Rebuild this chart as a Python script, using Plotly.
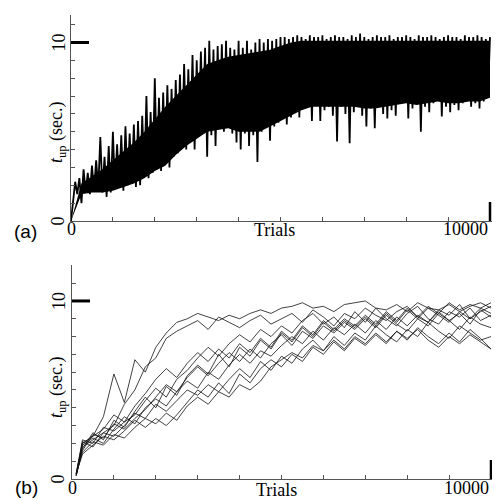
import plotly.graph_objects as go

# ---------------- data ----------------
# Panel (a): single run, dense oscillation read as alternating troughs / peaks
a_trough_trials = list(range(50, 10000, 100))
a_troughs = [1.2, 1.5, 1.0, 1.6, 1.5, 1.7, 1.8, 1.6, 1.35, 1.6,
             1.8, 1.9, 1.7, 2.0, 2.1, 1.9, 2.0, 2.5, 2.4, 2.7,
             2.9, 2.8, 3.2, 3.0, 3.6, 3.8, 4.2, 4.0, 4.6, 4.0,
             5.0, 5.5, 3.6, 4.8, 4.2, 5.3, 5.0, 5.3, 4.9, 4.4,
             4.0, 4.9, 4.2, 4.8, 3.3, 5.0, 5.3, 4.5, 5.3, 5.5,
             5.9, 5.4, 5.8, 6.2, 5.8, 6.6, 7.0, 5.6, 6.8, 5.6,
             6.2, 6.4, 5.9, 4.45, 6.4, 6.0, 4.35, 6.1, 6.6, 5.9,
             5.3, 6.3, 5.2, 6.8, 6.0, 5.75, 6.2, 5.9, 6.6, 7.0,
             5.75, 6.3, 6.7, 5.0, 6.4, 6.1, 6.6, 6.8, 5.85, 6.4,
             6.1, 6.5, 6.2, 6.6, 6.8, 6.4, 6.6, 6.3, 6.7, 7.0]
a_peak_trials = list(range(100, 10001, 100))
a_peaks = [2.2, 2.4, 2.9, 2.7, 3.1, 3.4, 4.7, 3.6, 4.2, 5.0,
           4.3, 4.8, 5.3, 4.9, 5.4, 5.6, 5.9, 7.0, 6.1, 8.0,
           6.9, 7.2, 7.6, 7.4, 7.9, 8.2, 8.8, 8.5, 9.3, 9.0,
           9.5, 9.7, 10.1, 9.6, 9.8, 9.9, 10.1, 9.7, 9.6, 10.1,
           9.7, 10.1, 9.6, 10.0, 10.2, 10.0, 10.2, 10.1, 10.2, 10.3,
           10.3, 10.2, 10.3, 10.4, 10.3, 10.2, 10.4, 10.3, 10.3, 10.4,
           10.2, 10.3, 10.4, 10.3, 10.3, 10.2, 10.4, 10.3, 10.5, 10.3,
           10.2, 10.3, 10.4, 10.3, 10.3, 10.4, 10.2, 10.3, 10.3, 10.4,
           10.3, 10.2, 10.4, 10.3, 10.3, 10.4, 10.3, 10.2, 10.3, 10.4,
           10.3, 10.3, 10.2, 10.4, 10.3, 10.3, 10.4, 10.3, 10.2, 10.3]
# solid (fully black) core of the band in panel (a), every 250 trials
a_core_trials = list(range(0, 10001, 250))
a_core_low = [0.0, 1.5, 1.6, 1.6, 1.7, 1.9, 2.1, 2.4, 2.8, 3.1,
              3.7, 4.2, 4.6, 5.0, 5.1, 5.2, 5.0, 5.0, 5.0, 5.3,
              5.6, 5.9, 6.2, 6.4, 6.4, 6.4, 6.4, 6.4, 6.3, 6.3,
              6.4, 6.5, 6.6, 6.5, 6.6, 6.7, 6.6, 6.6, 6.7, 6.7, 6.9]
a_core_high = [0.0, 2.1, 2.5, 2.9, 3.4, 3.9, 4.4, 5.0, 5.7, 6.4,
               7.0, 7.6, 8.2, 8.8, 9.0, 9.2, 9.3, 9.4, 9.5, 9.6,
               9.8, 10.0, 10.1, 10.1, 10.1, 10.1, 10.1, 10.1, 10.1, 10.1,
               10.1, 10.1, 10.1, 10.1, 10.1, 10.1, 10.1, 10.1, 10.1, 10.1, 10.1]

# Panel (b): ten runs, values every 250 trials
trials_b = [100] + list(range(250, 10001, 250))
run_1 = [0.3, 2.0, 2.4, 3.5, 5.9, 4.3, 6.7, 6.0, 7.4, 8.2, 8.8, 9.0, 9.3, 9.1, 8.9, 9.2, 9.0, 9.3, 9.5, 9.3,
         9.6, 9.7, 9.9, 9.6, 9.7, 9.4, 9.8, 9.9, 10.0, 9.6, 9.5, 9.8, 9.4, 9.9, 9.6, 9.5, 9.8, 9.4, 9.7, 9.9, 9.6]
run_2 = [0.2, 1.8, 2.2, 2.6, 3.0, 4.2, 5.0, 6.3, 6.8, 7.9, 8.3, 8.6, 8.9, 8.4, 9.1, 8.8, 8.5, 8.9, 9.2, 8.7,
         9.0, 9.3, 8.8, 9.5, 9.1, 8.6, 9.3, 9.0, 9.6, 9.2, 8.9, 9.4, 9.7, 9.1, 8.8, 9.5, 9.2, 9.8, 9.0, 9.4, 9.7]
run_3 = [0.3, 2.2, 2.0, 2.9, 2.7, 3.2, 3.6, 4.4, 5.1, 4.6, 5.6, 6.1, 6.8, 7.4, 6.9, 7.6, 8.1, 7.7, 8.4, 8.0,
         8.6, 8.2, 8.9, 9.3, 8.7, 9.1, 8.5, 9.4, 8.8, 9.6, 9.0, 8.6, 9.3, 9.7, 9.0, 8.7, 9.4, 9.1, 9.6, 8.9, 9.2]
run_4 = [0.2, 1.6, 2.5, 2.3, 3.1, 2.8, 3.4, 3.9, 4.6, 5.3, 4.9, 5.7, 6.3, 5.8, 6.5, 7.1, 6.6, 7.3, 6.8, 7.6,
         8.1, 7.5, 8.3, 7.9, 8.6, 8.2, 8.8, 8.4, 9.0, 8.5, 9.2, 8.7, 8.3, 9.0, 8.6, 9.3, 8.9, 8.4, 9.1, 8.7, 8.5]
run_5 = [0.3, 1.4, 1.9, 2.4, 2.2, 2.7, 3.3, 2.9, 3.4, 3.0, 3.6, 4.3, 5.0, 4.6, 5.4, 4.8, 5.9, 5.4, 6.2, 6.7,
         6.3, 7.0, 6.6, 7.4, 7.0, 7.7, 7.2, 7.9, 7.5, 8.1, 7.6, 8.3, 7.8, 8.5, 8.0, 7.6, 8.2, 7.7, 8.4, 7.9, 7.3]
run_6 = [0.2, 1.9, 2.3, 2.0, 2.8, 3.5, 3.1, 4.0, 4.5, 4.1, 4.9, 5.5, 5.1, 6.0, 5.6, 6.4, 7.0, 6.5, 7.2, 6.9,
         7.5, 8.0, 7.6, 8.3, 7.8, 8.5, 8.1, 8.7, 8.2, 8.9, 8.4, 9.1, 8.6, 9.2, 8.8, 9.4, 8.9, 9.3, 8.7, 9.5, 9.1]
run_7 = [0.3, 2.1, 1.8, 2.6, 2.4, 3.0, 3.7, 3.4, 4.2, 3.8, 4.4, 5.0, 4.7, 5.3, 4.9, 5.6, 6.2, 5.7, 6.6, 6.1,
         6.9, 6.5, 7.3, 7.8, 7.2, 8.0, 7.5, 8.2, 7.8, 8.6, 8.1, 7.7, 8.4, 8.0, 8.8, 8.3, 7.9, 8.6, 8.2, 7.8, 8.0]
run_8 = [0.2, 1.7, 2.6, 2.2, 3.3, 2.9, 3.8, 4.6, 4.0, 5.2, 4.7, 5.8, 6.4, 5.9, 7.0, 6.3, 7.4, 6.9, 7.8, 7.3,
         8.2, 7.7, 8.5, 8.0, 8.8, 8.3, 8.9, 8.5, 9.1, 8.6, 9.3, 8.8, 9.5, 9.0, 9.6, 9.2, 8.8, 9.4, 9.0, 9.6, 9.3]
run_9 = [0.3, 1.5, 2.1, 1.9, 2.5, 2.3, 2.9, 3.4, 3.1, 3.7, 3.3, 4.1, 4.6, 4.2, 4.9, 4.6, 5.3, 5.0, 5.5, 6.3,
         6.7, 7.1, 6.8, 7.5, 7.2, 7.8, 7.3, 8.0, 7.6, 8.2, 7.7, 8.3, 7.9, 8.4, 7.8, 7.4, 8.0, 7.6, 8.1, 7.7, 7.3]
run_10 = [0.2, 2.0, 2.4, 2.8, 3.6, 3.2, 4.1, 4.8, 5.6, 6.2, 5.7, 6.5, 7.1, 6.6, 7.3, 6.8, 7.6, 7.1, 7.9, 7.4,
          8.3, 7.8, 8.6, 8.1, 8.9, 8.4, 9.0, 8.6, 9.2, 8.7, 9.4, 8.9, 9.6, 9.1, 9.7, 9.3, 9.9, 9.5, 9.8, 9.6, 9.9]
runs_b = [run_1, run_2, run_3, run_4, run_5, run_6, run_7, run_8, run_9, run_10]

x_minor_ticks = list(range(0, 10001, 1000))
y_minor_ticks_a = list(range(0, 12))
y_minor_ticks_b = list(range(0, 13))
x_major = 10000
y_major = 10
x_label_texts = ["0", "Trials", "10000"]
y_label_texts = ["0", "10"]
y_title = "<i>t</i><sub>up</sub> (sec.)"

# ---------------- build panel (a) series ----------------
trials_a = [0]
tup_a = [0.0]
for tl, vl, tp, vp in zip(a_trough_trials, a_troughs, a_peak_trials, a_peaks):
    trials_a += [tl, tp]
    tup_a += [vl, vp]

W, H = 495, 500
def px(x):
    return x / W
def py(y):
    return 1 - y / H

fig = go.Figure()
# solid core of the dense band
fig.add_trace(go.Scatter(x=a_core_trials, y=a_core_low, mode="lines",
                         line=dict(color="black", width=0),
                         xaxis="x", yaxis="y", showlegend=False, hoverinfo="skip"))
fig.add_trace(go.Scatter(x=a_core_trials, y=a_core_high, mode="lines",
                         line=dict(color="black", width=0), fill="tonexty", fillcolor="black",
                         xaxis="x", yaxis="y", showlegend=False, hoverinfo="skip"))
fig.add_trace(go.Scatter(x=trials_a, y=tup_a, mode="lines",
                         line=dict(color="black", width=1.8),
                         xaxis="x", yaxis="y", showlegend=False, hoverinfo="skip"))
for run in runs_b:
    fig.add_trace(go.Scatter(x=trials_b, y=run, mode="lines",
                             line=dict(color="#111111", width=0.8),
                             xaxis="x2", yaxis="y2", showlegend=False, hoverinfo="skip"))

axis_common = dict(showgrid=False, zeroline=False, showline=True, linecolor="#555555",
                   linewidth=1, ticks="inside", ticklen=4, tickcolor="#555555",
                   tickwidth=1, showticklabels=False, fixedrange=True)

fig.update_layout(
    width=W, height=H,
    margin=dict(l=0, r=0, t=0, b=0),
    paper_bgcolor="white", plot_bgcolor="white",
    xaxis=dict(domain=[px(71), px(492)], range=[0, 10048], anchor="y",
               tickvals=x_minor_ticks, **axis_common),
    yaxis=dict(domain=[py(221), py(15)], range=[0, 11.54], anchor="x",
               tickvals=y_minor_ticks_a, **axis_common),
    xaxis2=dict(domain=[px(72), px(492)], range=[0, 10024], anchor="y2",
                tickvals=x_minor_ticks, **axis_common),
    yaxis2=dict(domain=[py(479), py(265)], range=[0, 12.02], anchor="x2",
                tickvals=y_minor_ticks_b, **axis_common),
)

# major (thick) marks
for xa, ya, ylen, xlen in [("x", "y", 19 / 206, 18 / 421), ("x2", "y2", 19 / 214, 18 / 420)]:
    fig.add_shape(type="line", xref=xa + " domain", yref=ya, x0=0, x1=xlen,
                  y0=y_major, y1=y_major, line=dict(color="black", width=3), layer="above")
    fig.add_shape(type="line", xref=xa, yref=ya + " domain", x0=x_major, x1=x_major,
                  y0=0, y1=ylen, line=dict(color="black", width=2.5), layer="above")

serif = "Liberation Serif"
sans = "Liberation Sans"
fs = 18

def ann(text, x, y, xref="paper", yref="paper", xanchor="center", angle=0, font=serif, size=fs):
    fig.add_annotation(text=text, x=x, y=y, xref=xref, yref=yref, xanchor=xanchor,
                       yanchor="middle", textangle=angle, showarrow=False,
                       font=dict(family=font, size=size, color="black"))

# panel (a) texts
ann(x_label_texts[0], 0, py(228.5), xref="x")
ann(x_label_texts[1], px(274), py(230))
ann(x_label_texts[2], x_major, py(229), xref="x", xanchor="right")
ann(y_label_texts[0], px(57.5), 0, yref="y", angle=-90)
ann(y_label_texts[1], px(59), y_major, yref="y", angle=-90)
ann(y_title, px(57), py(132), angle=-90)
ann("(a)", px(25), py(232), font=sans, size=19)

# panel (b) texts
ann(x_label_texts[0], 0, py(488), xref="x2")
ann(x_label_texts[1], px(276), py(490))
ann(x_label_texts[2], x_major, py(488), xref="x2", xanchor="right")
ann(y_label_texts[0], px(57.5), 0, yref="y2", angle=-90)
ann(y_label_texts[1], px(59), y_major, yref="y2", angle=-90)
ann(y_title, px(57), py(387), angle=-90)
ann("(b)", px(26), py(487), font=sans, size=19)

fig.write_html("out.html", config={"displayModeBar": False},
               post_script="document.body.style.margin='0px';document.body.style.overflow='hidden';")
